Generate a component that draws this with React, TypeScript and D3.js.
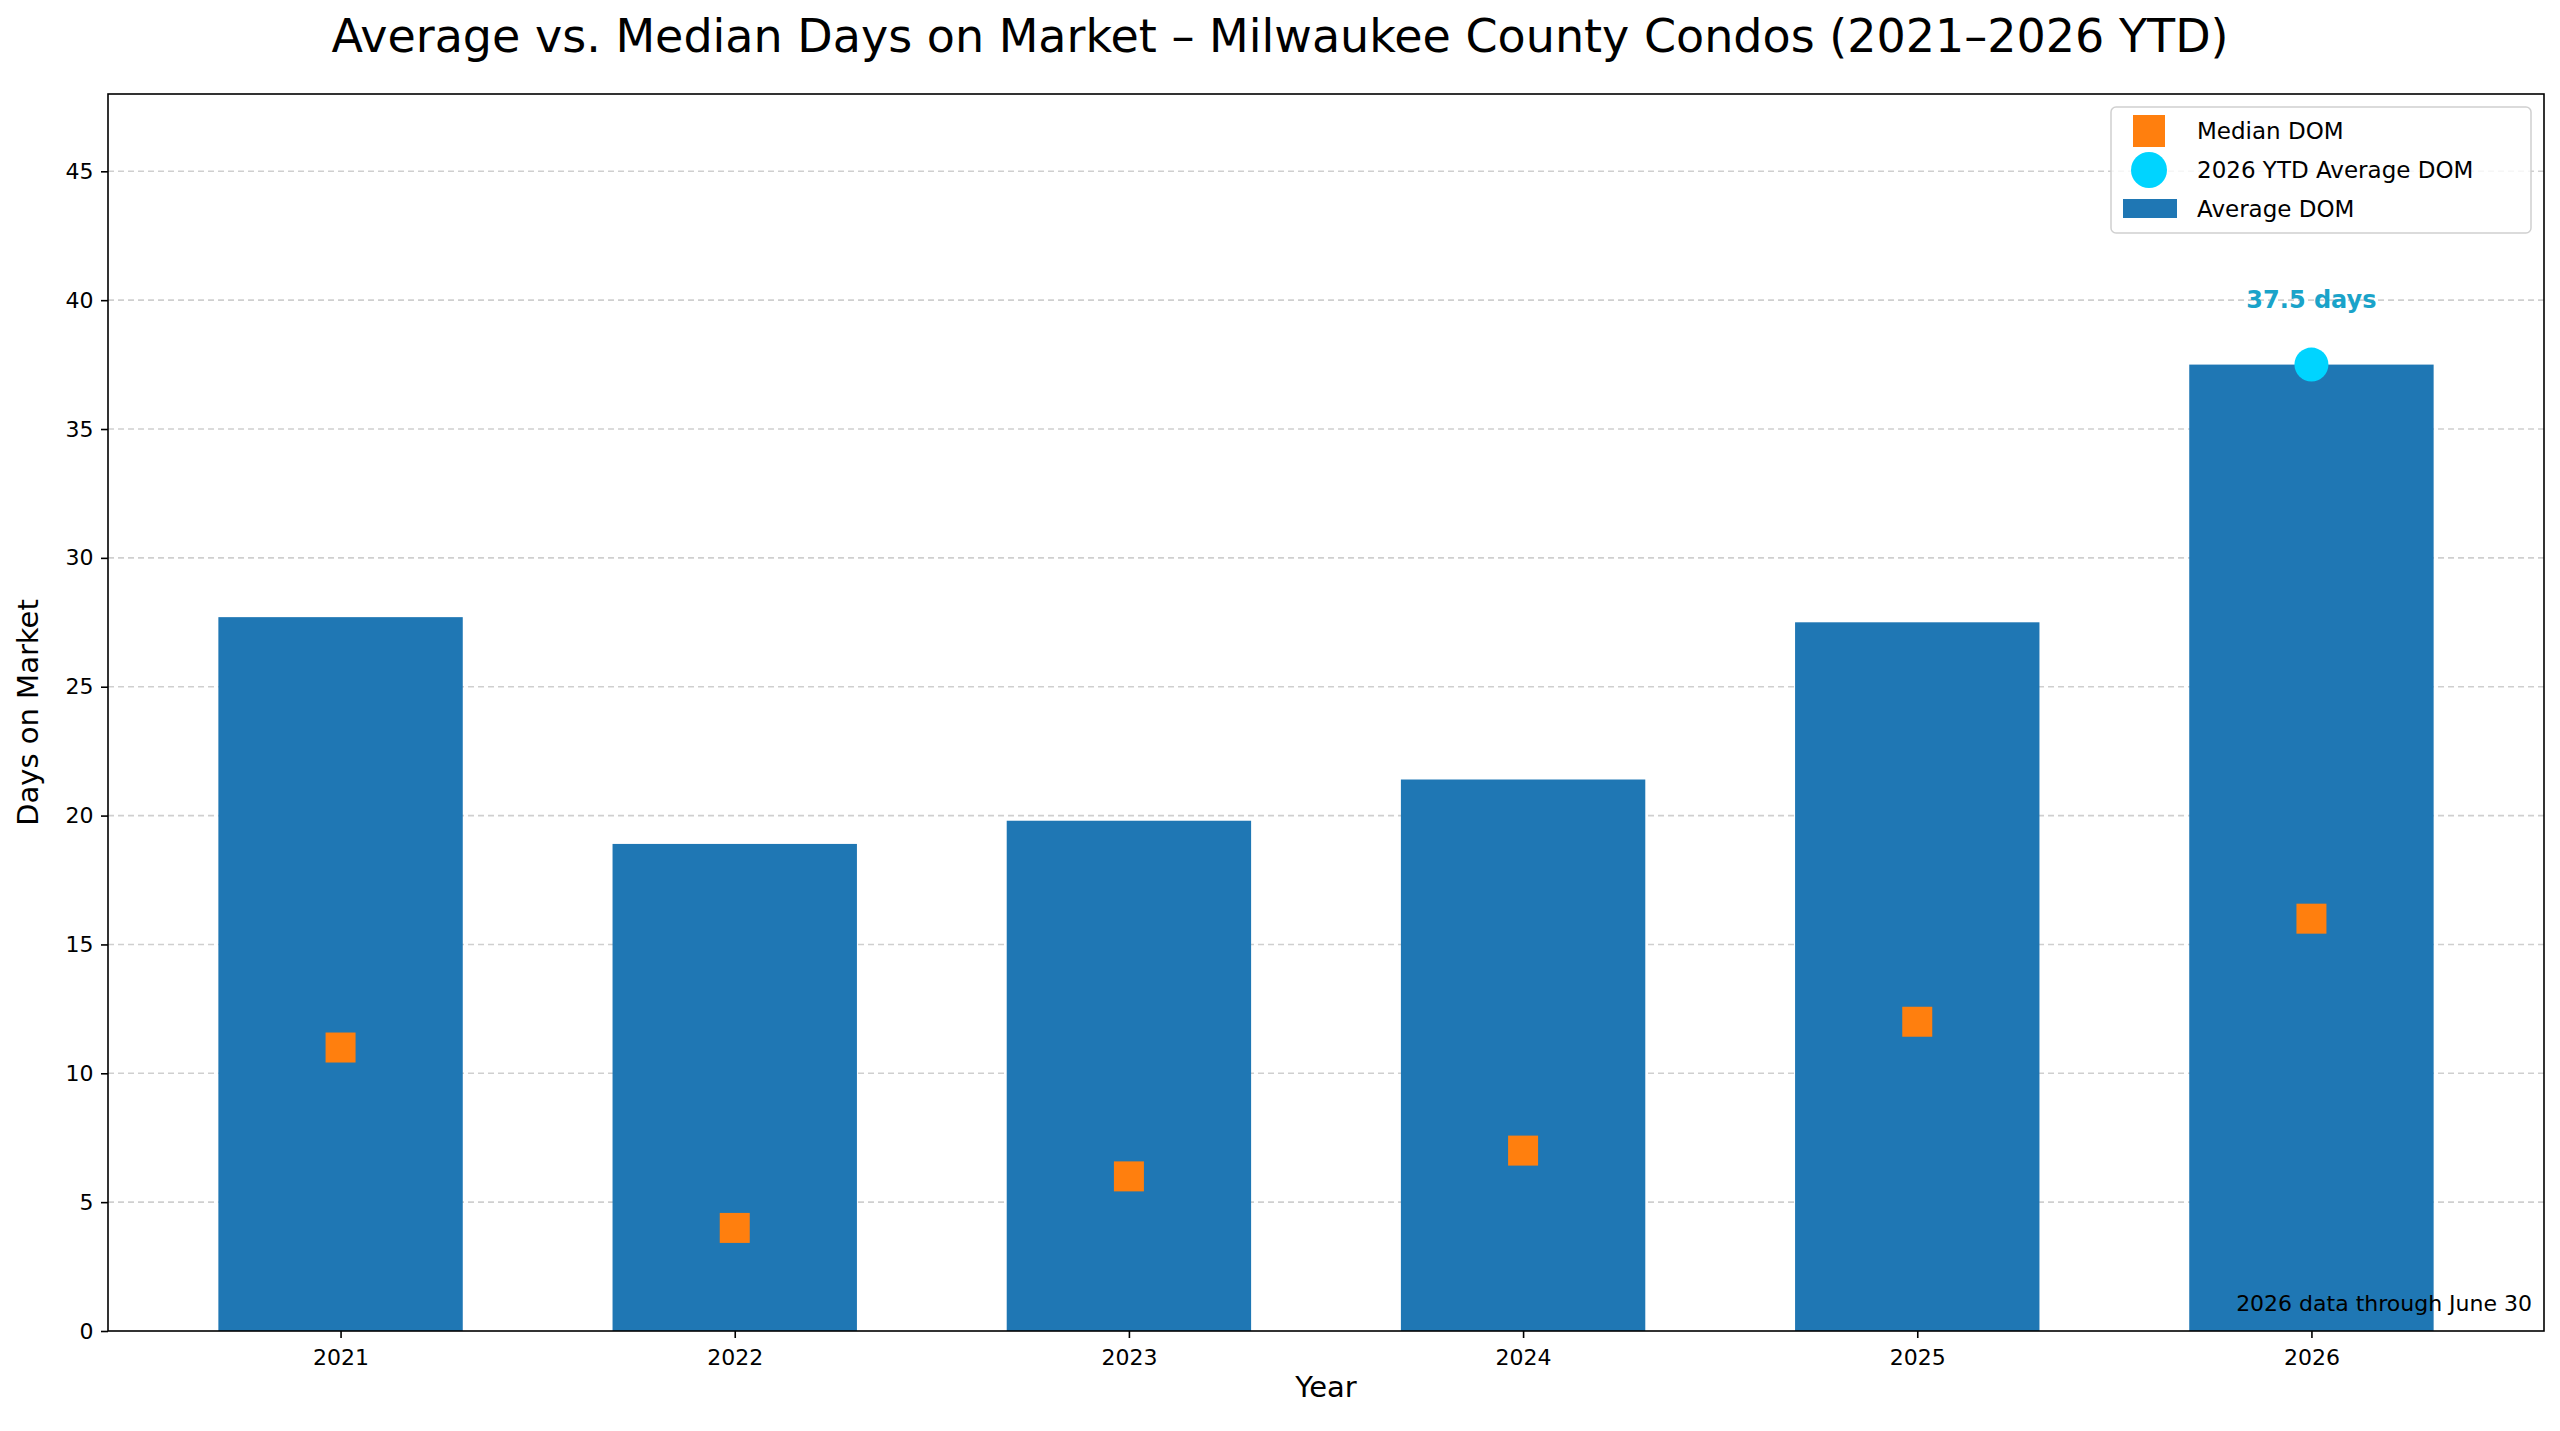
import * as React from 'react';
import * as d3 from 'd3';

const years = ['2021', '2022', '2023', '2024', '2025', '2026'];
const averageDom = [27.7, 18.9, 19.8, 21.4, 27.5, 37.5];
const medianDom = [11, 4, 6, 7, 12, 16];
const yTicks = [0, 5, 10, 15, 20, 25, 30, 35, 40, 45];

export default function App() {
  const ref = React.useRef<SVGSVGElement | null>(null);

  React.useEffect(() => {
    if (!ref.current) return;
    const svg = d3.select(ref.current);
    svg.selectAll('*').remove();
    const W = 2560, H = 1431;
    const m = { top: 94, right: 16, bottom: 100, left: 108 };
    const font = 'DejaVu Sans, sans-serif';

    svg.append('rect').attr('width', W).attr('height', H).attr('fill', '#fff');

    const x = d3.scaleLinear().domain([-0.59, 5.59]).range([m.left, W - m.right]);
    const y = d3.scaleLinear().domain([0, 48]).range([H - m.bottom, m.top]);

    // grid
    svg.append('g').selectAll('line').data(yTicks.slice(1)).join('line')
      .attr('x1', m.left).attr('x2', W - m.right)
      .attr('y1', d => y(d)).attr('y2', d => y(d))
      .attr('stroke', '#cfcfcf').attr('stroke-width', 1.6).attr('stroke-dasharray', '6,4');

    const bw = 0.62;
    svg.append('g').selectAll('rect').data(averageDom).join('rect')
      .attr('x', (_, i) => x(i - bw / 2)).attr('width', x(bw) - x(0))
      .attr('y', d => y(d)).attr('height', d => y(0) - y(d))
      .attr('fill', '#1f77b4');

    const s = 30;
    svg.append('g').selectAll('rect').data(medianDom).join('rect')
      .attr('x', (_, i) => x(i) - s / 2).attr('y', d => y(d) - s / 2)
      .attr('width', s).attr('height', s).attr('fill', '#ff7f0e');

    svg.append('circle').attr('cx', x(5)).attr('cy', y(averageDom[5])).attr('r', 17).attr('fill', '#00d4ff');
    svg.append('text').attr('x', x(5)).attr('y', y(40) + 8).attr('text-anchor', 'middle')
      .attr('font-family', font).attr('font-size', 24).attr('font-weight', 'bold').attr('fill', '#1aa3c9')
      .text(`${averageDom[5]} days`);

    // axes
    const ax = svg.append('g').attr('transform', `translate(0,${H - m.bottom})`)
      .call(d3.axisBottom(x).tickValues(d3.range(years.length)).tickFormat(i => years[i as number]).tickSize(7).tickSizeOuter(0) as any);
    const ay = svg.append('g').attr('transform', `translate(${m.left},0)`)
      .call(d3.axisLeft(y).tickValues(yTicks).tickSize(7).tickSizeOuter(0) as any);
    [ax, ay].forEach(g => {
      g.selectAll('text').attr('font-family', font).attr('font-size', 22).attr('fill', '#000');
      g.selectAll('line').attr('stroke', '#000').attr('stroke-width', 1.6);
      g.select('.domain').remove();
    });
    ax.selectAll('text').attr('dy', '1.1em');
    ay.selectAll('text').attr('dx', '-0.2em');

    svg.append('rect').attr('x', m.left).attr('y', m.top).attr('width', W - m.left - m.right)
      .attr('height', H - m.top - m.bottom).attr('fill', 'none').attr('stroke', '#000').attr('stroke-width', 1.6);

    svg.append('text').attr('x', W / 2).attr('y', 52).attr('text-anchor', 'middle')
      .attr('font-family', font).attr('font-size', 46).text('Average vs. Median Days on Market – Milwaukee County Condos (2021–2026 YTD)');
    svg.append('text').attr('x', x(2.5)).attr('y', H - 34).attr('text-anchor', 'middle')
      .attr('font-family', font).attr('font-size', 29).text('Year');
    svg.append('text').attr('transform', `translate(38,${y(24)}) rotate(-90)`).attr('text-anchor', 'middle')
      .attr('font-family', font).attr('font-size', 29).text('Days on Market');
    svg.append('text').attr('x', W - m.right - 12).attr('y', H - m.bottom - 20).attr('text-anchor', 'end')
      .attr('font-family', font).attr('font-size', 22).text('2026 data through June 30');

    // legend
    const lg = svg.append('g').attr('transform', 'translate(2111,107)');
    lg.append('rect').attr('width', 420).attr('height', 126).attr('rx', 5)
      .attr('fill', 'rgba(255,255,255,0.8)').attr('stroke', '#d0d0d0').attr('stroke-width', 1.5);
    lg.append('rect').attr('x', 22).attr('y', 8).attr('width', 32).attr('height', 32).attr('fill', '#ff7f0e');
    lg.append('circle').attr('cx', 38).attr('cy', 63).attr('r', 18).attr('fill', '#00d4ff');
    lg.append('rect').attr('x', 12).attr('y', 92).attr('width', 54).attr('height', 19).attr('fill', '#1f77b4');
    ['Median DOM', '2026 YTD Average DOM', 'Average DOM'].forEach((t, i) => {
      lg.append('text').attr('x', 86).attr('y', 32 + i * 39).attr('font-family', font).attr('font-size', 23).text(t);
    });
  }, []);

  return <svg ref={ref} width={2560} height={1431} style={{ position: 'absolute', left: 0, top: 0 }} />;
}
